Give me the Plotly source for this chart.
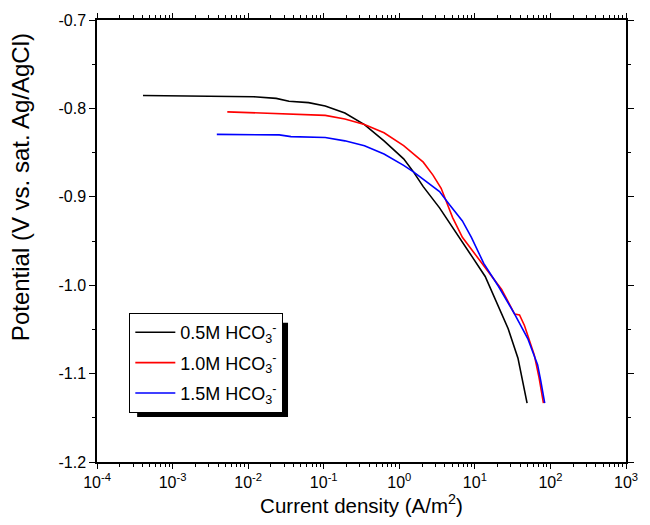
import plotly.graph_objects as go

# Current density (A/m^2) and potential (V vs. sat. Ag/AgCl)
x_05 = [4.06e-4, 2.16e-3, 0.01186, 0.0235, 0.0347, 0.0631, 0.1047, 0.1905, 0.346, 0.628,
        1.142, 1.54, 2.075, 3.41, 5.61, 9.23, 13.7, 20.5, 27.6, 37.2, 43.2, 49.1]
v_05 = [-0.7854, -0.7859, -0.7868, -0.7887, -0.7920, -0.7935, -0.7972, -0.8053, -0.8183, -0.8367,
        -0.8571, -0.8718, -0.8885, -0.9125, -0.9395, -0.9680, -0.9901, -1.0234, -1.0492, -1.0825,
        -1.1083, -1.1335]

x_10 = [5.30e-3, 0.0318, 0.1047, 0.1905, 0.346, 0.628, 1.142, 2.075, 2.79, 3.58, 4.16,
        5.08, 6.84, 12.4, 22.6, 33.6, 39.0, 45.3, 61.1, 70.8, 80.8]
v_10 = [-0.8039, -0.8064, -0.8079, -0.8120, -0.8183, -0.8275, -0.8422, -0.8608, -0.8755, -0.8904,
        -0.9051, -0.9236, -0.9458, -0.9753, -1.0049, -1.0326, -1.0337, -1.0456, -1.0788,
        -1.1047, -1.1335]

x_15 = [3.85e-3, 0.0258, 0.0369, 0.1047, 0.1905, 0.346, 0.628, 1.142, 1.54, 2.29, 3.41, 4.60,
        6.84, 9.0, 13.1, 20.5, 33.6, 50.1, 67.6, 74.5, 84.0]
v_15 = [-0.8294, -0.8300, -0.8319, -0.8330, -0.8367, -0.8422, -0.8516, -0.8644, -0.8718, -0.8829,
        -0.8940, -0.9088, -0.9273, -0.9458, -0.9753, -1.0012, -1.0326, -1.0603, -1.0899, -1.1083,
        -1.1335]

names = ["0.5M HCO<sub>3</sub><sup>-</sup>", "1.0M HCO<sub>3</sub><sup>-</sup>", "1.5M HCO<sub>3</sub><sup>-</sup>"]
colors = ["#000000", "#ff0000", "#0000ff"]

x_tickvals = [1e-4, 1e-3, 1e-2, 1e-1, 1e0, 1e1, 1e2, 1e3]
x_ticktext = ["10<sup>-4</sup>", "10<sup>-3</sup>", "10<sup>-2</sup>", "10<sup>-1</sup>",
              "10<sup>0</sup>", "10<sup>1</sup>", "10<sup>2</sup>", "10<sup>3</sup>"]
y_tickvals = [-0.7, -0.8, -0.9, -1.0, -1.1, -1.2]
y_ticktext = ["-0.7", "-0.8", "-0.9", "-1.0", "-1.1", "-1.2"]
y_minorvals = [-0.75, -0.85, -0.95, -1.05, -1.15]

x_title = "Current density (A/m<sup>2</sup>)"
y_title = "Potential (V vs. sat. Ag/AgCl)"

fig = go.Figure()
for i, (xs, vs, nm, c) in enumerate(zip([x_05, x_10, x_15], [v_05, v_10, v_15], names, colors)):
    fig.add_trace(go.Scatter(x=xs, y=vs, mode="lines", name=nm, legendgroup=f"g{i}",
                             line=dict(color=c, width=1.6)))

font = "Liberation Sans, Arial, sans-serif"

# legend drop shadow
fig.add_shape(type="rect", xref="paper", yref="paper",
              x0=0.0759, x1=0.3611, y0=0.102, y1=0.3149,
              fillcolor="black", line=dict(width=0), layer="above")

fig.add_annotation(text=y_title, xref="paper", yref="paper", x=-0.1444, y=0.621,
                   textangle=-90, showarrow=False, font=dict(size=24, family=font),
                   xanchor="center", yanchor="middle")

fig.update_layout(
    width=650, height=525,
    margin=dict(l=97, r=13, t=15, b=59),
    plot_bgcolor="white", paper_bgcolor="white",
    font=dict(family=font, color="black", size=16),
    showlegend=True,
    legend=dict(x=0.0611, y=0.337, xanchor="left", yanchor="top",
                bordercolor="black", borderwidth=1, bgcolor="white",
                font=dict(size=18, family=font), tracegroupgap=4,
                itemwidth=40),
)
fig.update_xaxes(type="log", range=[-4, 3], tickvals=x_tickvals, ticktext=x_ticktext,
                 ticks="outside", ticklen=5, tickcolor="#000000", tickwidth=1.2,
                 minor=dict(ticks="outside", ticklen=3, tickcolor="#000000", tickwidth=1.2,
                            dtick="D1", showgrid=False),
                 showline=True, linecolor="black", linewidth=1.5, mirror="allticks",
                 showgrid=False, zeroline=False,
                 title=dict(text=x_title, font=dict(size=20.5), standoff=8),
                 tickfont=dict(size=16))
fig.update_yaxes(range=[-1.2, -0.7], tickvals=y_tickvals, ticktext=y_ticktext,
                 ticks="outside", ticklen=6, tickcolor="#000000", tickwidth=1.2,
                 minor=dict(ticks="outside", ticklen=3, tickcolor="#000000", tickwidth=1.2,
                            tickvals=y_minorvals, showgrid=False),
                 showline=True, linecolor="black", linewidth=1.5, mirror="allticks",
                 showgrid=False, zeroline=False,
                 tickfont=dict(size=16))

fig.write_html("out.html")
